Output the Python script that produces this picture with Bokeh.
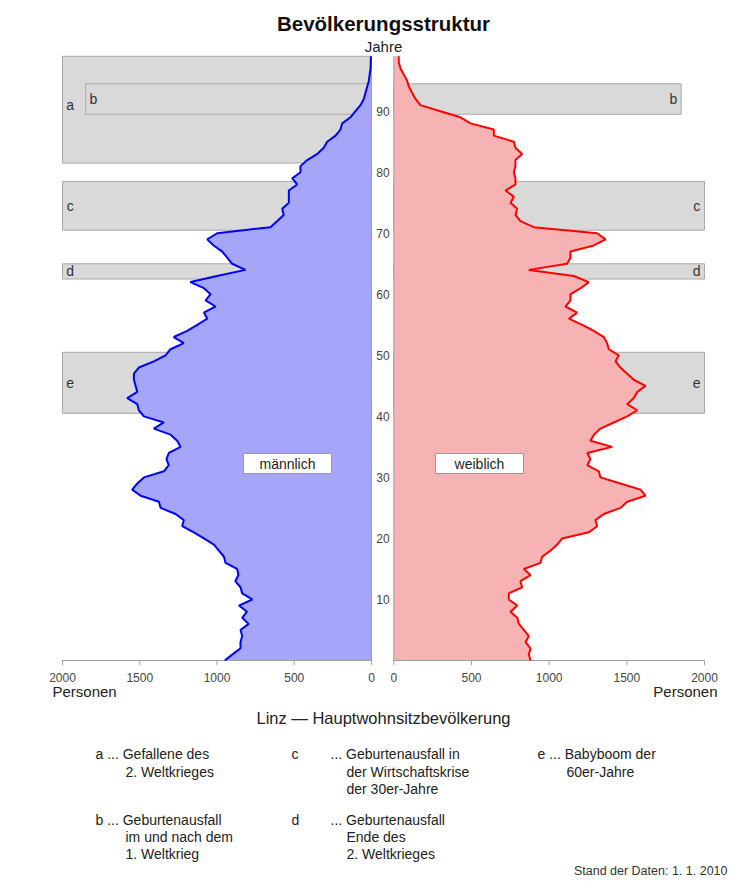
from bokeh.plotting import figure
from bokeh.models import Range1d
from bokeh.core.properties import value
from bokeh.embed import file_html
from bokeh.resources import INLINE

# ---------------- data ----------------
ages = list(range(100))
male = [950, 900, 848, 848, 837, 848, 796, 837, 806, 858,
        772, 837, 848, 882, 861, 870, 945, 955, 988, 1020,
        1085, 1150, 1225, 1215, 1268, 1365, 1376, 1495, 1549, 1516,
        1473, 1344, 1312, 1327, 1312, 1236, 1258, 1301, 1409, 1344,
        1473, 1506, 1516, 1581, 1516, 1527, 1538, 1538, 1506, 1409,
        1333, 1301, 1215, 1280, 1193, 1128, 1063, 1085, 1010, 1074,
        1042, 1085, 1172, 1000, 816, 902, 934, 966, 1022, 1063,
        999, 654, 610, 568, 578, 535, 535, 535, 481, 513,
        460, 460, 416, 351, 309, 287, 233, 201, 190, 136,
        104, 71, 50, 39, 28, 17, 12, 6, 5, 4]
female = [880, 869, 880, 848, 869, 837, 805, 795, 751, 795,
          740, 740, 826, 815, 880, 837, 944, 955, 1008, 1052,
          1084, 1255, 1309, 1298, 1352, 1459, 1502, 1620, 1588, 1459,
          1330, 1320, 1245, 1266, 1245, 1406, 1266, 1288, 1330, 1416,
          1502, 1567, 1502, 1545, 1567, 1620, 1545, 1502, 1459, 1427,
          1448, 1384, 1373, 1352, 1288, 1213, 1127, 1180, 1105, 1137,
          1137, 1202, 1255, 1159, 869, 1116, 1137, 1137, 1288, 1363,
          1309, 901, 815, 783, 794, 751, 773, 719, 783, 783,
          773, 783, 783, 826, 783, 773, 644, 644, 494, 429,
          300, 171, 140, 118, 97, 86, 64, 43, 32, 32]

person_ticks = [0, 500, 1000, 1500, 2000]
person_tick_labels = ["0", "500", "1000", "1500", "2000"]
age_ticks = [10, 20, 30, 40, 50, 60, 70, 80, 90]

# annotation boxes (age spans, extent in persons)
left_box_labels = ["a", "b", "c", "d", "e"]
left_box_bottom = [81.5, 89.5, 70.5, 62.5, 40.5]
left_box_top = [99.0, 94.5, 78.5, 65.0, 50.5]
left_box_extent = [2000, 1850, 2000, 2000, 2000]
left_label_age = [91.0, 92.0, 74.5, 63.75, 45.5]
left_label_x = [1950, 1800, 1950, 1950, 1950]

right_box_labels = ["b", "c", "d", "e"]
right_box_bottom = [89.5, 70.5, 62.5, 40.5]
right_box_top = [94.5, 78.5, 65.0, 50.5]
right_box_extent = [1850, 2000, 2000, 2000]
right_label_age = [92.0, 74.5, 63.75, 45.5]
right_label_x = [1800, 1950, 1950, 1950]

# ---------------- layout (screen pixel anchors) ----------------
W, H = 730, 880
X0, Y0 = 0, 0
M_ZERO, M_2000 = 371.0, 62.0
F_ZERO, F_2000 = 393.3, 704.0
AGE0_Y, AGE90_Y = 660.0, 110.7

km = (M_ZERO - M_2000) / 2000.0
kf = (F_2000 - F_ZERO) / 2000.0
ka = (AGE0_Y - AGE90_Y) / 90.0

p = figure(width=W, height=H, x_range=Range1d(X0, X0 + W), y_range=Range1d(Y0 + H, Y0),
           output_backend="svg", toolbar_location=None, min_border=0,
           x_axis_type=None, y_axis_type=None)
p.grid.visible = False
p.outline_line_color = None
p.background_fill_color = "white"
p.border_fill_color = "white"

p.extra_x_ranges = {
    "m": Range1d((M_ZERO - X0) / km, (M_ZERO - (X0 + W)) / km),
    "f": Range1d((X0 - F_ZERO) / kf, (X0 + W - F_ZERO) / kf),
}
p.extra_y_ranges = {"age": Range1d((AGE0_Y - (Y0 + H)) / ka, (AGE0_Y - Y0) / ka)}

FONT = value("Liberation Sans")
BOX_FILL, BOX_LINE = "#d9d9d9", "#a9a9a9"

# boxes
p.quad(left=left_box_extent, right=[0] * 5, bottom=left_box_bottom, top=left_box_top,
       fill_color=BOX_FILL, line_color=BOX_LINE, line_width=1,
       x_range_name="m", y_range_name="age")
p.quad(left=[0] * 4, right=right_box_extent, bottom=right_box_bottom, top=right_box_top,
       fill_color=BOX_FILL, line_color=BOX_LINE, line_width=1,
       x_range_name="f", y_range_name="age")
p.text(x=left_label_x, y=left_label_age, text=left_box_labels, text_font=FONT,
       text_font_size="14px", text_color="#333333", text_align="center",
       text_baseline="middle", x_range_name="m", y_range_name="age")
p.text(x=right_label_x, y=right_label_age, text=right_box_labels, text_font=FONT,
       text_font_size="14px", text_color="#333333", text_align="center",
       text_baseline="middle", x_range_name="f", y_range_name="age")

# population areas
p.harea(x1=[0] * len(ages), x2=male, y=ages, fill_color="#a5a6fa",
        x_range_name="m", y_range_name="age")
p.harea(x1=[0] * len(ages), x2=female, y=ages, fill_color="#f7b3b3",
        x_range_name="f", y_range_name="age")

# axes
AX = "#a0a0a0"
top_age = ages[-1]
for rn in ("m", "f"):
    p.segment(x0=[0, 0], y0=[0, 0], x1=[2000, 0], y1=[0, top_age], line_color=AX,
              line_width=1, x_range_name=rn, y_range_name="age")
    p.segment(x0=person_ticks, y0=[0] * 5, x1=person_ticks, y1=[-4.5 / ka] * 5,
              line_color=AX, line_width=1, x_range_name=rn, y_range_name="age")
    p.text(x=person_ticks, y=[-16.5 / ka] * 5, text=person_tick_labels, text_font=FONT,
           text_font_size="12px", text_color="#444444", text_align="center",
           text_baseline="middle", x_range_name=rn, y_range_name="age")

p.line(x=male, y=ages, line_color="#0000ff", line_width=2,
       x_range_name="m", y_range_name="age")
p.line(x=female, y=ages, line_color="#ff0000", line_width=2,
       x_range_name="f", y_range_name="age")

# age tick labels in the middle
p.text(x=[382.5] * len(age_ticks), y=age_ticks, text=[str(a) for a in age_ticks],
       text_font=FONT, text_font_size="12px", text_color="#444444",
       text_align="center", text_baseline="middle", y_range_name="age")

# sex label boxes
p.quad(left=[243, 435], right=[331, 523], top=[453, 453], bottom=[473, 473],
       fill_color="white", line_color="#999999", line_width=1)
p.text(x=[287, 479], y=[463, 463], text=["männlich", "weiblich"], text_font=FONT,
       text_font_size="14px", text_color="#222222", text_align="center",
       text_baseline="middle")

def txt(x, y, s, size="14px", align="left", bold=False, color="#222222"):
    p.text(x=[x], y=[y], text=[s], text_font=FONT, text_font_size=size,
           text_align=align, text_baseline="middle", text_color=color,
           text_font_style="bold" if bold else "normal")

txt(383, 23, "Bevölkerungsstruktur", size="20.5px", align="center", bold=True, color="#111111")
txt(383, 46, "Jahre", size="15px", align="center")
txt(52, 691, "Personen", size="15px")
txt(717, 691, "Personen", size="15px", align="right")
txt(383, 717, "Linz \u2014 Hauptwohnsitzbevölkerung", size="16.5px", align="center")

# notes
notes = [
    (95, 753, "a ... Gefallene des"), (125, 771, "2. Weltkrieges"),
    (291, 753, "c"), (330, 753, "... Geburtenausfall in"),
    (346, 771, "der Wirtschaftskrise"), (346, 788, "der 30er-Jahre"),
    (537, 753, "e ... Babyboom der"), (566, 771, "60er-Jahre"),
    (95, 819, "b ... Geburtenausfall"), (125, 836, "im und nach dem"),
    (125, 853, "1. Weltkrieg"),
    (291, 819, "d"), (330, 819, "... Geburtenausfall"),
    (346, 836, "Ende des"), (346, 853, "2. Weltkrieges"),
]
for x, y, s in notes:
    txt(x, y, s, size="14px")
txt(727, 870, "Stand der Daten: 1. 1. 2010", size="12.5px", align="right", color="#333333")

open("out.html", "w").write(file_html(p, INLINE))
